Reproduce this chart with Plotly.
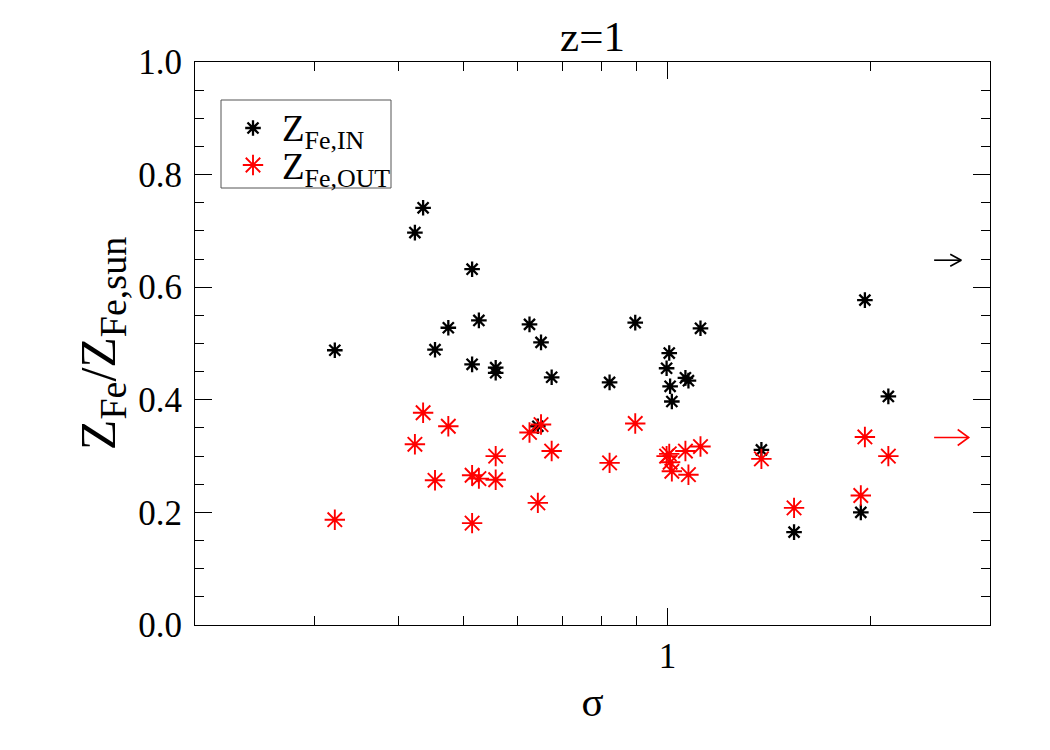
import numpy as np
import plotly.graph_objects as go

# ---- data ----
sigma = [0.322, 0.423, 0.435, 0.453, 0.474, 0.514, 0.514, 0.526, 0.557, 0.557,
         0.625, 0.650, 0.674, 0.643, 0.821, 0.896, 0.997, 1.006, 1.009, 1.015,
         1.063, 1.074, 1.119, 1.377, 1.539, 1.932, 1.959, 2.122]
z_fe_in = [0.488, 0.697, 0.741, 0.489, 0.528, 0.632, 0.463, 0.541, 0.457, 0.448,
           0.534, 0.502, 0.440, 0.353, 0.431, 0.537, 0.456, 0.483, 0.424, 0.397,
           0.439, 0.434, 0.527, 0.311, 0.165, 0.200, 0.577, 0.406]
z_fe_out = [0.187, 0.321, 0.377, 0.257, 0.353, 0.266, 0.181, 0.260, 0.258, 0.300,
            0.342, 0.356, 0.309, 0.217, 0.288, 0.358, 0.300, 0.304, 0.289, 0.273,
            0.309, 0.267, 0.317, 0.295, 0.208, 0.230, 0.334, 0.300]

# off-scale arrows (tail sigma, tip sigma, value)
arrow_in = (2.48, 2.72, 0.648)
arrow_out = (2.48, 2.79, 0.333)

series_names = ["Z<sub>Fe,IN</sub>", "Z<sub>Fe,OUT</sub>"]
series_colors = ["black", "red"]
series_sizes = [13, 17]
series_widths = [2.3, 1.9]

x_minor = [0.3, 0.4, 0.5, 0.6, 0.7, 0.8, 0.9, 2.0]
y_major = [0.0, 0.2, 0.4, 0.6, 0.8, 1.0]
y_labels = ["0.0", "0.2", "0.4", "0.6", "0.8", "1.0"]

# ---- layout geometry ----
W, H = 1050, 750
ML, MR, MT, MB = 195, 60, 62, 125
PW, PH = W - ML - MR, H - MT - MB
XR = [np.log10(0.2), np.log10(3.0)]
dec_px = PW / (XR[1] - XR[0])

FONT = "Liberation Serif"


def px_to_paper(px, py):
    return (px - ML) / PW, 1 - (py - MT) / PH


fig = go.Figure()
for yvals, nm, col, sz, lw in zip([z_fe_in, z_fe_out], series_names, series_colors,
                                  series_sizes, series_widths):
    fig.add_trace(go.Scatter(
        x=sigma, y=yvals, mode="markers", name=nm, showlegend=False,
        marker=dict(symbol="asterisk-open", size=sz, color=col,
                    line=dict(color=col, width=lw))))


def arrow_xy(tail, tip, yv, hb, hh):
    xb = tip / 10 ** (hb / dec_px)
    dy = hh / PH
    xs = [tail, tip, None, xb, tip, xb]
    ys = [yv, yv, None, yv + dy, yv, yv - dy]
    return xs, ys


ax_, ay_ = arrow_xy(*arrow_in, 11, 6)
fig.add_trace(go.Scatter(x=ax_, y=ay_, mode="lines", showlegend=False,
                         line=dict(color="black", width=1.6), hoverinfo="skip"))
bx_, by_ = arrow_xy(*arrow_out, 11, 8)
fig.add_trace(go.Scatter(x=bx_, y=by_, mode="lines", showlegend=False,
                         line=dict(color="red", width=1.6), hoverinfo="skip"))

# ---- hand-drawn legend (box, symbols, labels) ----
bx0, by0 = px_to_paper(221, 188)
bx1, by1 = px_to_paper(391, 100)
fig.add_shape(type="rect", xref="paper", yref="paper", x0=bx0, x1=bx1, y0=by0, y1=by1,
              line=dict(color="#555", width=1), fillcolor="white", layer="below")
leg_rows = [128, 165]
for row, nm, col, sz, lw in zip(leg_rows, series_names, series_colors,
                                series_sizes, series_widths):
    mx, my = px_to_paper(253, row)
    fig.add_trace(go.Scatter(
        x=[mx], y=[my], xaxis="x2", yaxis="y2", mode="markers", showlegend=False,
        hoverinfo="skip",
        marker=dict(symbol="asterisk-open", size=sz, color=col,
                    line=dict(color=col, width=lw))))
    tx, ty = px_to_paper(280, row + 4)
    fig.add_annotation(x=tx, y=ty, xref="paper", yref="paper", text=nm,
                       showarrow=False, xanchor="left", yanchor="middle",
                       font=dict(family=FONT, size=37, color="black"))

ylab = ("Z<sub><span style='font-size:38px'>Fe</span></sub>/"
        "Z<sub><span style='font-size:38px'>Fe,sun</span></sub>")

fig.update_layout(
    width=W, height=H,
    margin=dict(l=ML, r=MR, t=MT, b=MB),
    paper_bgcolor="white", plot_bgcolor="white",
    font=dict(family=FONT, size=34, color="black"),
    title=dict(text="z=1", x=(ML + PW / 2) / W, xanchor="center",
               yref="container", y=1 - 36 / H, yanchor="middle",
               font=dict(family=FONT, size=43)),
    showlegend=False,
    xaxis=dict(
        type="log", range=XR,
        tickvals=[1], ticktext=["1"], ticks="inside", ticklen=17, tickwidth=1,
        tickcolor="black", showline=True, linecolor="black", linewidth=1,
        mirror="ticks", showgrid=False, zeroline=False,
        tickfont=dict(family=FONT, size=35), ticklabelstandoff=0,
        minor=dict(tickvals=x_minor, ticks="inside", ticklen=9, tickcolor="black",
                   tickwidth=1, showgrid=False),
        title=dict(text="σ", font=dict(family=FONT, size=41), standoff=12),
    ),
    yaxis=dict(
        range=[0, 1], tickvals=y_major, ticktext=y_labels,
        ticks="inside", ticklen=17, tickwidth=1, tickcolor="black",
        showline=True, linecolor="black", linewidth=1, mirror="ticks",
        showgrid=False, zeroline=False,
        tickfont=dict(family=FONT, size=35), ticklabelstandoff=5,
        minor=dict(dtick=0.05, ticks="inside", ticklen=9, tickcolor="black",
                   tickwidth=1, showgrid=False),
        title=dict(text=ylab, font=dict(family=FONT, size=50), standoff=6),
    ),
    xaxis2=dict(overlaying="x", range=[0, 1], visible=False, domain=[0, 1]),
    yaxis2=dict(overlaying="y", range=[0, 1], visible=False, domain=[0, 1]),
)

fig.write_html("out.html")
